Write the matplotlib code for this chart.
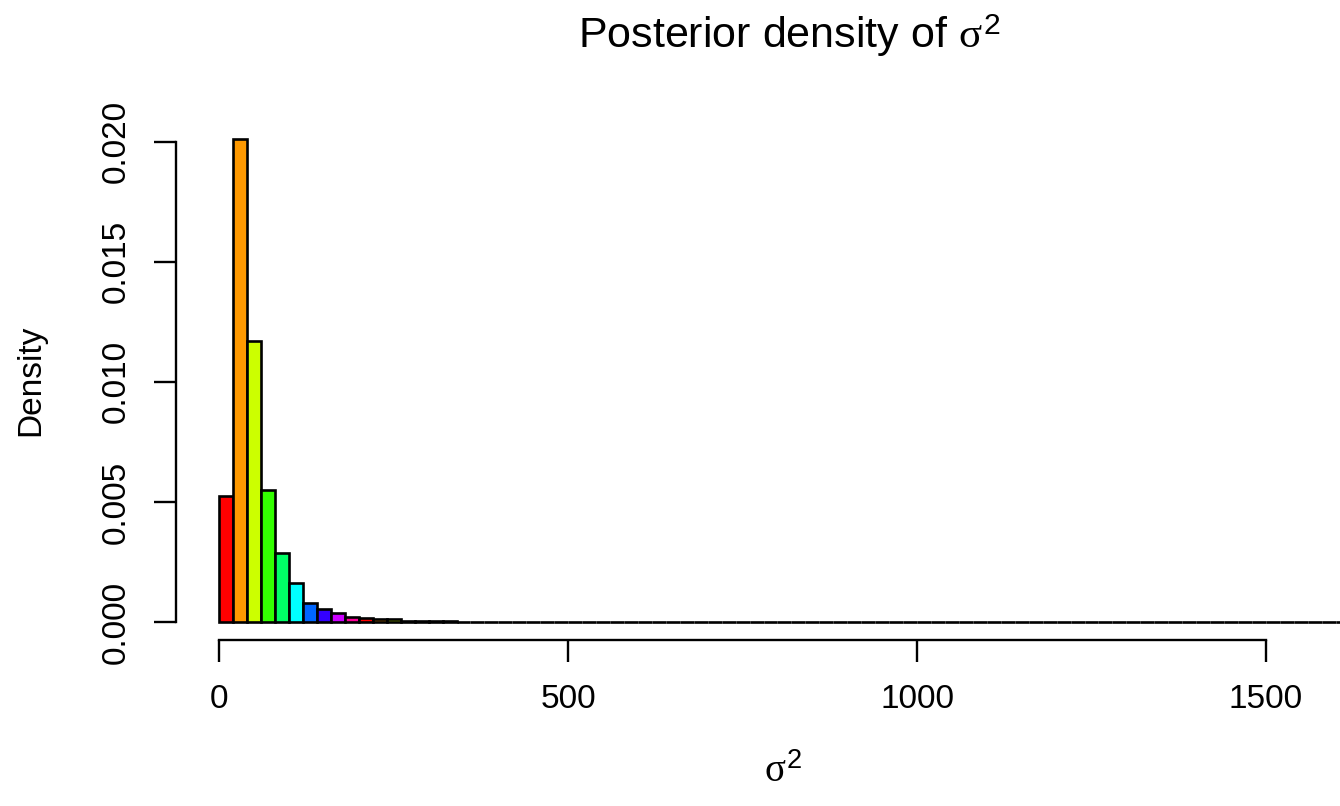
import matplotlib.pyplot as plt

plt.rcParams['font.family'] = ['Liberation Sans', 'DejaVu Sans']
plt.rcParams['mathtext.fontset'] = 'custom'
plt.rcParams['mathtext.rm'] = 'Liberation Sans'
plt.rcParams['mathtext.it'] = 'Liberation Serif'

# histogram of sigma^2 draws, bins of width 20 starting at 0
bin_width = 20
density = [
    0.00525, 0.0201, 0.01171, 0.0055, 0.00287, 0.00162, 0.00079, 0.00054,
    0.00037, 0.00022, 0.00018, 0.00011, 0.00014, 0.00006, 0.00004, 0.00005,
    0.00003, 0.00002, 0.00002, 0.00001, 0.00001, 0.00001, 0.00001, 0.00001,
    0.00001, 0.00001, 0.0, 0.00001, 0.0, 0.0, 0.00001, 0.0,
    0.0, 0.0, 0.0, 0.0, 0.0, 0.0, 0.0, 0.0,
    0.0, 0.0, 0.0, 0.0, 0.0, 0.0, 0.0, 0.0,
    0.0, 0.0, 0.0, 0.0, 0.0, 0.0, 0.0, 0.0,
    0.0, 0.0, 0.0, 0.0, 0.0, 0.0, 0.0, 0.0,
    0.0, 0.0, 0.0, 0.0, 0.0, 0.0, 0.0, 0.0,
    0.0, 0.0, 0.0, 0.0, 0.0, 0.0, 0.0, 0.0,
    0.0,
]
# R rainbow(10), recycled over the bars
palette = ['#FF0000', '#FF9900', '#CCFF00', '#33FF00', '#00FF66',
           '#00FFFF', '#0066FF', '#3300FF', '#CC00FF', '#FF0099']
x_ticks = [0, 500, 1000, 1500]
y_ticks = [0.000, 0.005, 0.010, 0.015, 0.020]

fig = plt.figure(figsize=(13.4, 8.06), dpi=100)
ax = fig.add_axes([176 / 1340, 1 - 640 / 806, (1402 - 176) / 1340, (640 - 120) / 806])

left = [i * bin_width for i in range(len(density))]
colors = [palette[i % len(palette)] for i in range(len(density))]
ax.bar(left, density, width=bin_width, align='edge', color=colors,
       edgecolor='black', linewidth=1.9)

ax.set_xlim(-62, 1695)
ax.set_ylim(-0.00075, 0.0209)

for s in ['top', 'right']:
    ax.spines[s].set_visible(False)
ax.spines['left'].set_bounds(0, 0.02)
ax.spines['bottom'].set_bounds(0, 1500)
ax.spines['left'].set_linewidth(1.7)
ax.spines['bottom'].set_linewidth(1.7)

ax.set_xticks(x_ticks)
ax.set_xticklabels([str(v) for v in x_ticks])
ax.set_yticks(y_ticks)
ax.set_yticklabels(['%.3f' % v for v in y_ticks], rotation=90, va='center')
ax.tick_params(axis='both', length=16, width=1.7, labelsize=24, pad=16)

fig.text(789 / 1340, 1 - 36 / 806, r'Posterior density of $\sigma^2$',
         ha='center', va='center', fontsize=31)
fig.text(783 / 1340, 1 - 772 / 806, r'$\sigma^2$', ha='center', va='center',
         fontsize=28)
fig.text(31 / 1340, 1 - 380 / 806, 'Density', ha='center', va='center',
         rotation=90, fontsize=24)

fig.savefig('out.png', dpi=100)
